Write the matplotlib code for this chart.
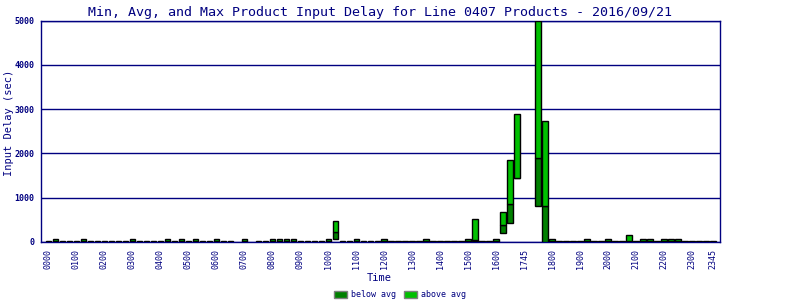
import numpy as np
import matplotlib
matplotlib.use("Agg")
import matplotlib.pyplot as plt
from matplotlib.patches import Patch

nan = np.nan

# min / avg / max input delay (sec) for each 15-minute slot, 96 slots
delay_min = [0, 0, 0, 0, 0, 0, 0, 0, 0, 0, 0, 0, 0, 0, 0, 0,
             0, 0, 0, 0, 0, 0, 0, 0, 0, 0, 0, nan, 0, nan, 0, 0,
             0, 0, 5, 0, 0, 0, 0, 0, 0, 54, 0, 0, 0, 0, 0, 0,
             0, 0, 0, 0, 0, 0, 0, 0, 0, 0, 0, 0, 0, 15, 0, 0,
             0, 190, 416, 1433, nan, nan, 814, 0, 0, 0, 0, 0, 0, 0, 0, 0,
             0, 0, 0, 5, 0, 0, 0, 0, 0, 0, 0, 0, 0, 0, 0, 0]
delay_avg = [4, 25, 4, 4, 4, 25, 4, 4, 4, 4, 4, 4, 25, 4, 4, 4,
             4, 25, 4, 25, 4, 25, 4, 4, 25, 4, 4, nan, 25, nan, 4, 4,
             25, 25, 25, 25, 4, 4, 4, 4, 25, 219, 4, 4, 25, 4, 4, 4,
             25, 4, 4, 4, 4, 4, 25, 4, 4, 4, 4, 4, 25, 40, 4, 4,
             25, 371, 845, 1450, nan, nan, 1885, 800, 25, 4, 4, 4, 4, 25, 4, 4,
             25, 4, 4, 20, 4, 25, 25, 4, 25, 25, 25, 4, 4, 4, 4, 4]
delay_max = [8, 55, 8, 8, 8, 55, 8, 8, 8, 8, 8, 8, 55, 8, 8, 8,
             8, 55, 8, 55, 8, 55, 8, 8, 55, 8, 8, nan, 55, nan, 8, 8,
             55, 55, 67, 55, 8, 8, 8, 8, 55, 468, 8, 8, 55, 8, 8, 8,
             55, 8, 8, 8, 8, 8, 55, 8, 8, 8, 8, 8, 55, 506, 8, 8,
             55, 664, 1840, 2879, nan, nan, 4985, 2721, 55, 8, 8, 8, 8, 55, 8, 8,
             55, 8, 8, 150, 8, 55, 55, 8, 55, 55, 55, 8, 8, 8, 8, 8]

tick_labels = ["0000", "0100", "0200", "0300", "0400", "0500", "0600", "0700",
               "0800", "0900", "1000", "1100", "1200", "1300", "1400", "1500",
               "1600", "1745", "1800", "1900", "2000", "2100", "2200", "2300",
               "2345"]

navy = "#000080"
dark_green = "#008000"
light_green = "#00c000"
mono = "DejaVu Sans Mono"

lo = np.array(delay_min, dtype=float)
mid = np.array(delay_avg, dtype=float)
hi = np.array(delay_max, dtype=float)
x = np.arange(len(lo))

fig = plt.figure(figsize=(8, 3), dpi=100)
ax = fig.add_axes([0.0513, 0.194, 0.8487, 0.737])

ax.bar(x, mid - lo, bottom=lo, width=0.72, color=dark_green,
       edgecolor="black", linewidth=1, zorder=3)
ax.bar(x, hi - mid, bottom=mid, width=0.72, color=light_green,
       edgecolor="black", linewidth=1, zorder=3)

ax.set_xlim(-1, 96)
ax.set_ylim(0, 5000)
ax.set_yticks([0, 1000, 2000, 3000, 4000, 5000])
ax.yaxis.grid(True, color=navy, linewidth=1, zorder=0)
ax.set_axisbelow(True)

tick_pos = list(range(0, 96, 4)) + [95]
ax.set_xticks(tick_pos)
ax.set_xticklabels(tick_labels, rotation=90, fontsize=6, family=mono,
                   color=navy)
for lab in ax.get_yticklabels():
    lab.set_fontsize(6)
    lab.set_family(mono)
    lab.set_fontweight("bold")
    lab.set_color(navy)
ax.tick_params(axis="both", length=0)
ax.tick_params(axis="x", pad=5)
ax.tick_params(axis="y", pad=5)

for s in ax.spines.values():
    s.set_color(navy)
    s.set_linewidth(1)

fig.text(0.475, 0.958, "Min, Avg, and Max Product Input Delay for Line 0407 Products - 2016/09/21",
         ha="center", va="center", fontsize=9.6, family=mono, color=navy)
fig.text(0.474, 0.073, "Time", ha="center", va="center", fontsize=7.5,
         family=mono, color=navy)
fig.text(0.011, 0.59, "Input Delay (sec)", ha="center", va="center",
         rotation=90, fontsize=7.5, family=mono, color=navy)

handles = [Patch(facecolor=dark_green, edgecolor="grey", label="below avg"),
           Patch(facecolor=light_green, edgecolor="grey", label="above avg")]
leg = fig.legend(handles=handles, loc="center", bbox_to_anchor=(0.5, 0.017),
                 ncol=2, frameon=False, handlelength=1.6,
                 handleheight=1.0, handletextpad=0.4, columnspacing=1.0,
                 prop={"family": mono, "size": 6})
for t in leg.get_texts():
    t.set_color(navy)

fig.savefig("out.png", dpi=100)
